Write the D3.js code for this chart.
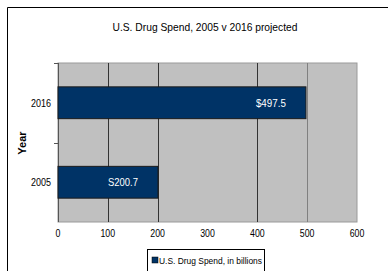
<!DOCTYPE html>
<html><head><meta charset="utf-8">
<script src="https://cdn.jsdelivr.net/npm/d3@7"></script>
<style>
html,body{margin:0;padding:0;background:#fff;}
svg{display:block;font-family:"Liberation Sans",Arial,sans-serif;}
</style></head>
<body><svg id="c" width="388" height="271"></svg>
<script>
const categories = ["2016", "2005"];
const values = [497.5, 200.7];
const valueLabels = ["$497.5", "S200.7"];
const xTicks = [0, 100, 200, 300, 400, 500, 600];
const gridValues = [100, 200, 400, 500];
const title = "U.S. Drug Spend, 2005 v 2016 projected";
const yTitle = "Year";
const legendLabel = "U.S. Drug Spend, in billions";

const svg = d3.select("#c");
const plot = {l: 58, r: 357, t: 63, b: 222};
const x = d3.scaleLinear().domain([0, 600]).range([plot.l, plot.r]);
const y = d3.scaleBand().domain(categories).range([plot.t, plot.b]).paddingInner(0.6).paddingOuter(0.3);

// outer frame
svg.append("path").attr("d", "M7.5,271 V7.5 H388").attr("fill", "none").attr("stroke", "#000").attr("stroke-width", 1);

svg.append("text").attr("x", 205).attr("y", 31).attr("text-anchor", "middle")
  .attr("font-size", 11).attr("fill", "#000").attr("textLength", 185).attr("lengthAdjust", "spacingAndGlyphs").text(title);

// plot background
svg.append("rect").attr("x", plot.l).attr("y", plot.t).attr("width", plot.r - plot.l).attr("height", plot.b - plot.t)
  .attr("fill", "#c0c0c0").attr("stroke", "#9a9a9a").attr("stroke-width", 1);

// gridlines
svg.append("g").selectAll("line").data(gridValues).join("line")
  .attr("x1", d => Math.round(x(d)) + 0.5).attr("x2", d => Math.round(x(d)) + 0.5)
  .attr("y1", plot.t).attr("y2", plot.b)
  .attr("stroke", d => d === 500 ? "#808080" : "#333").attr("stroke-width", 1);

// left axis line and ticks
svg.append("line").attr("x1", plot.l + 0.5).attr("x2", plot.l + 0.5).attr("y1", plot.t).attr("y2", plot.b).attr("stroke", "#555");
const bounds = [plot.t, (plot.t + plot.b) / 2];
svg.append("g").selectAll("line").data(bounds).join("line")
  .attr("x1", plot.l - 4).attr("x2", plot.l).attr("y1", d => Math.round(d) + 0.5).attr("y2", d => Math.round(d) + 0.5)
  .attr("stroke", "#555");

// bars
svg.append("g").selectAll("rect").data(values).join("rect")
  .attr("x", x(0)).attr("y", (d, i) => y(categories[i]))
  .attr("width", d => x(d) - x(0)).attr("height", y.bandwidth())
  .attr("fill", "#003366").attr("stroke", "#1a1a1a").attr("stroke-width", 1);

svg.append("g").selectAll("text").data(values).join("text")
  .attr("x", d => x(d) - 20).attr("y", (d, i) => y(categories[i]) + y.bandwidth() / 2 + 4)
  .attr("text-anchor", "end").attr("font-size", 10.5).attr("fill", "#fff")
  .attr("textLength", 30).attr("lengthAdjust", "spacingAndGlyphs")
  .text((d, i) => valueLabels[i]);

// y category labels
svg.append("g").selectAll("text").data(categories).join("text")
  .attr("x", 51).attr("y", d => y(d) + y.bandwidth() / 2 + 4)
  .attr("text-anchor", "end").attr("font-size", 10).attr("fill", "#000")
  .attr("textLength", 20).attr("lengthAdjust", "spacingAndGlyphs").text(d => d);

svg.append("text").attr("transform", "translate(26,143) rotate(-90)")
  .attr("text-anchor", "middle").attr("font-size", 11).attr("font-weight", "bold").attr("fill", "#000").text(yTitle);

// x tick labels
svg.append("g").selectAll("text").data(xTicks).join("text")
  .attr("x", d => x(d)).attr("y", 237).attr("text-anchor", "middle")
  .attr("font-size", 10).attr("fill", "#000").attr("transform", d => `translate(${x(d)},0) scale(0.88,1) translate(${-x(d)},0)`)
  .text(d => d);

// legend
const lg = svg.append("g");
lg.append("rect").attr("x", 147.5).attr("y", 249.5).attr("width", 117).attr("height", 24)
  .attr("fill", "#fff").attr("stroke", "#000").attr("stroke-width", 1);
lg.append("rect").attr("x", 152).attr("y", 257).attr("width", 6).attr("height", 6).attr("fill", "#003366").attr("stroke", "#000").attr("stroke-width", 0.5);
lg.append("text").attr("x", 159).attr("y", 263.5).attr("font-size", 9).attr("fill", "#000")
  .attr("textLength", 103).attr("lengthAdjust", "spacingAndGlyphs").text(legendLabel);
</script></body></html>
